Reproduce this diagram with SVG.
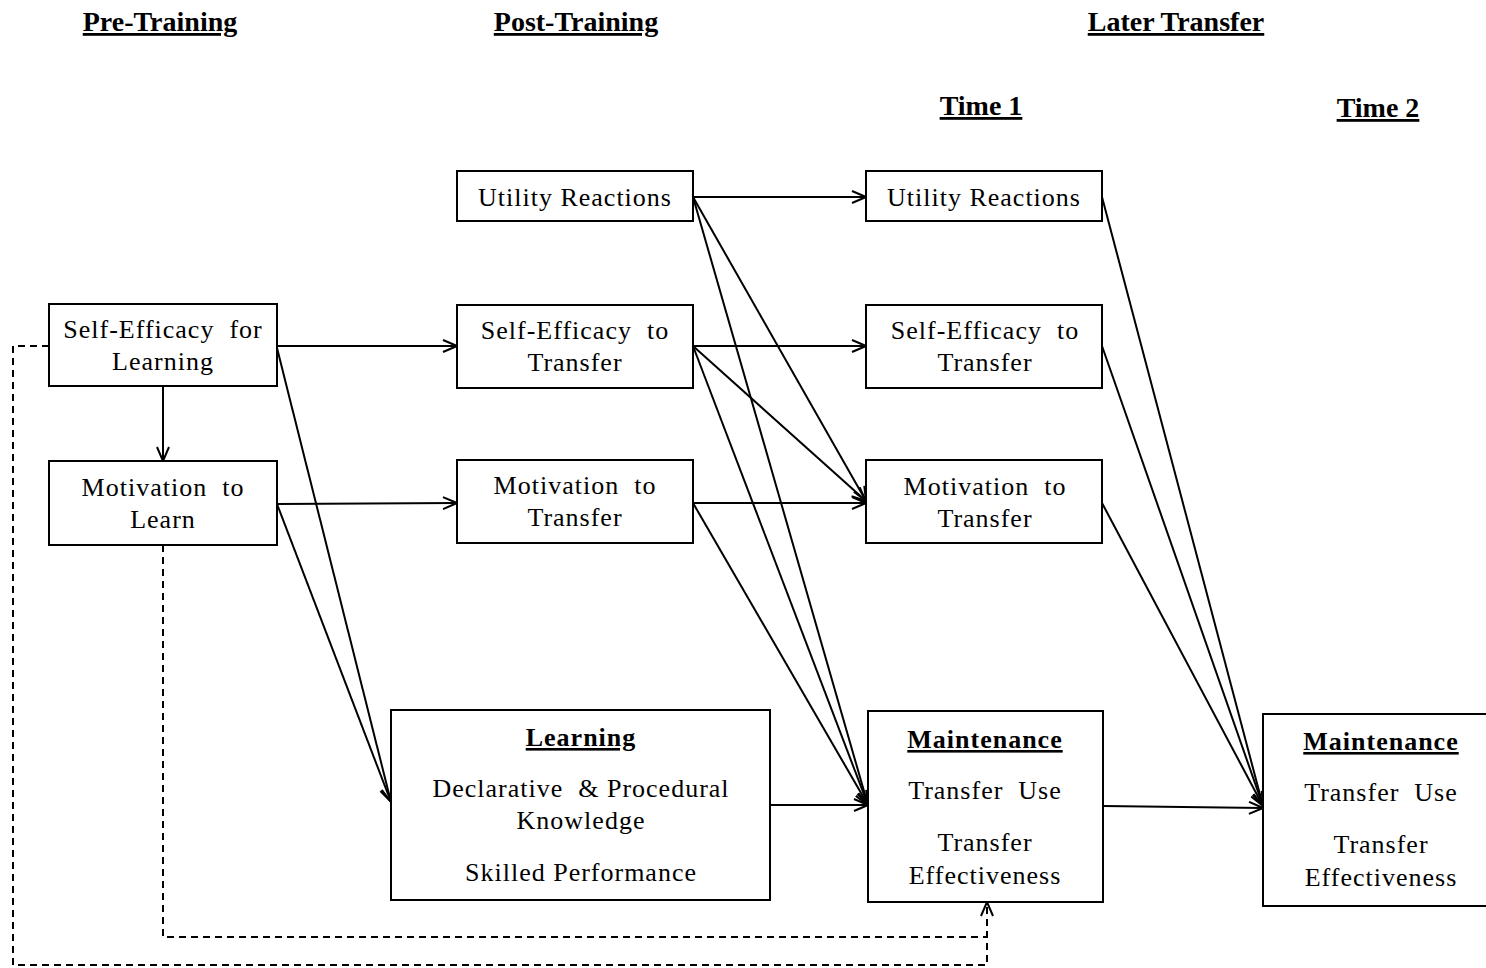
<svg xmlns="http://www.w3.org/2000/svg" width="1486" height="968" viewBox="0 0 1486 968">
<style>
.box{fill:#fff;stroke:#000;stroke-width:2}
.t{font-family:"Liberation Serif","Times New Roman",serif;font-size:26px;letter-spacing:1px;fill:#000;text-anchor:middle}
.tb{font-family:"Liberation Serif","Times New Roman",serif;font-size:26px;letter-spacing:1px;font-weight:bold;text-decoration:underline;fill:#000;text-anchor:middle}
.h{font-family:"Liberation Serif","Times New Roman",serif;font-size:28px;font-weight:bold;text-decoration:underline;fill:#000;text-anchor:middle}
.c{fill:none;stroke:#000;stroke-width:2}
.d{fill:none;stroke:#000;stroke-width:2;stroke-dasharray:7 5}
</style>
<defs>
<marker id="arr" viewBox="0 0 16 14" refX="15" refY="7" markerWidth="16" markerHeight="14" orient="auto" markerUnits="userSpaceOnUse">
<path d="M1,1 L15,7 L1,13" fill="none" stroke="#000" stroke-width="2"/>
</marker>
</defs>
<rect width="1486" height="968" fill="#fff"/>
<g id="headers">
<text class="h" x="160" y="31">Pre-Training</text>
<text class="h" x="576" y="31">Post-Training</text>
<text class="h" x="1176" y="31">Later Transfer</text>
<text class="h" x="981" y="115">Time 1</text>
<text class="h" x="1378" y="117">Time 2</text>
</g>
<g id="connectors">
<path class="c" d="M277,346 L457,346" marker-end="url(#arr)"/>
<path class="c" d="M163,386 L163,461" marker-end="url(#arr)"/>
<path class="c" d="M277,504 L457,503" marker-end="url(#arr)"/>
<path class="c" d="M277,348 L391,802" marker-end="url(#arr)"/>
<path class="c" d="M277,504 L391,802" marker-end="url(#arr)"/>
<path class="c" d="M693,197 L866,197" marker-end="url(#arr)"/>
<path class="c" d="M693,346 L866,346" marker-end="url(#arr)"/>
<path class="c" d="M693,503 L866,503" marker-end="url(#arr)"/>
<path class="c" d="M693,197 L866,501" marker-end="url(#arr)"/>
<path class="c" d="M693,346 L866,501" marker-end="url(#arr)"/>
<path class="c" d="M693,197 L868,805" marker-end="url(#arr)"/>
<path class="c" d="M693,346 L868,805" marker-end="url(#arr)"/>
<path class="c" d="M693,503 L868,805" marker-end="url(#arr)"/>
<path class="c" d="M770,805 L868,805" marker-end="url(#arr)"/>
<path class="c" d="M1102,197 L1263,806" marker-end="url(#arr)"/>
<path class="c" d="M1102,346 L1263,806" marker-end="url(#arr)"/>
<path class="c" d="M1102,503 L1263,806" marker-end="url(#arr)"/>
<path class="c" d="M1103,806 L1263,808" marker-end="url(#arr)"/>
<path class="d" d="M49,346 L13,346 L13,965 L987,965 L987,902" marker-end="url(#arr)"/>
<path class="d" d="M163,545 L163,937 L987,937"/>
</g>
<g id="n-sel">
<rect class="box" x="49" y="304" width="228" height="82"/>
<text class="t" x="163" y="338" xml:space="preserve">Self-Efficacy  for</text>
<text class="t" x="163" y="370">Learning</text>
</g>
<g id="n-ml">
<rect class="box" x="49" y="461" width="228" height="84"/>
<text class="t" x="163" y="496" xml:space="preserve">Motivation  to</text>
<text class="t" x="163" y="528">Learn</text>
</g>
<g id="n-ur1">
<rect class="box" x="457" y="171" width="236" height="50"/>
<text class="t" x="575" y="206">Utility Reactions</text>
</g>
<g id="n-set1">
<rect class="box" x="457" y="305" width="236" height="83"/>
<text class="t" x="575" y="339" xml:space="preserve">Self-Efficacy  to</text>
<text class="t" x="575" y="371">Transfer</text>
</g>
<g id="n-mt1">
<rect class="box" x="457" y="460" width="236" height="83"/>
<text class="t" x="575" y="494" xml:space="preserve">Motivation  to</text>
<text class="t" x="575" y="526">Transfer</text>
</g>
<g id="n-learning">
<rect class="box" x="391" y="710" width="379" height="190"/>
<text class="tb" x="581" y="746">Learning</text>
<text class="t" x="581" y="797" xml:space="preserve">Declarative  &amp; Procedural</text>
<text class="t" x="581" y="829">Knowledge</text>
<text class="t" x="581" y="881">Skilled Performance</text>
</g>
<g id="n-ur2">
<rect class="box" x="866" y="171" width="236" height="50"/>
<text class="t" x="984" y="206">Utility Reactions</text>
</g>
<g id="n-set2">
<rect class="box" x="866" y="305" width="236" height="83"/>
<text class="t" x="985" y="339" xml:space="preserve">Self-Efficacy  to</text>
<text class="t" x="985" y="371">Transfer</text>
</g>
<g id="n-mt2">
<rect class="box" x="866" y="460" width="236" height="83"/>
<text class="t" x="985" y="495" xml:space="preserve">Motivation  to</text>
<text class="t" x="985" y="527">Transfer</text>
</g>
<g id="n-maint1">
<rect class="box" x="868" y="711" width="235" height="191"/>
<text class="tb" x="985" y="748">Maintenance</text>
<text class="t" x="985" y="799" xml:space="preserve">Transfer  Use</text>
<text class="t" x="985" y="851">Transfer</text>
<text class="t" x="985" y="884">Effectiveness</text>
</g>
<g id="n-maint2">
<rect class="box" x="1263" y="714" width="230" height="192"/>
<text class="tb" x="1381" y="750">Maintenance</text>
<text class="t" x="1381" y="801" xml:space="preserve">Transfer  Use</text>
<text class="t" x="1381" y="853">Transfer</text>
<text class="t" x="1381" y="886">Effectiveness</text>
</g>
</svg>
